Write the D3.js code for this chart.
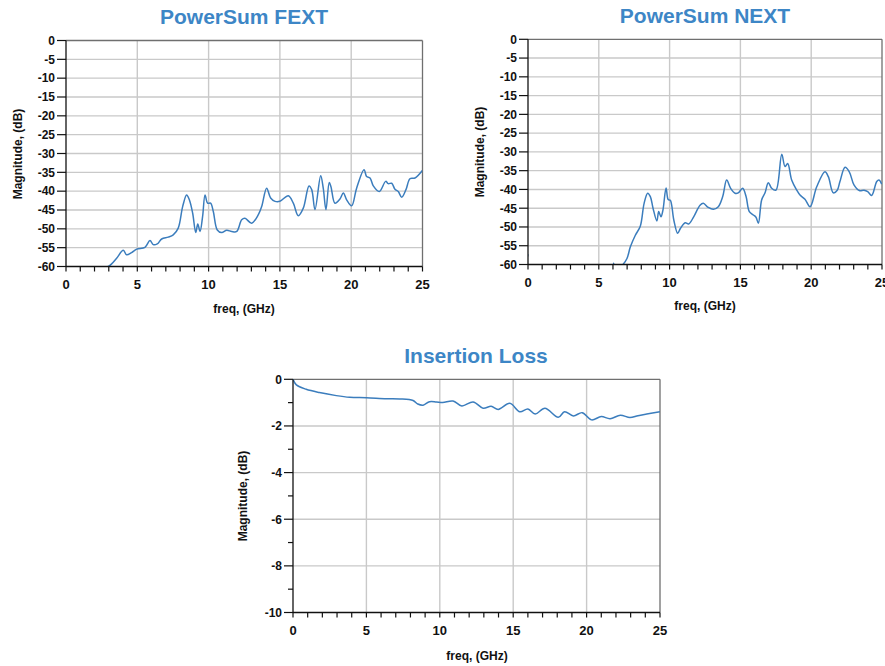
<!DOCTYPE html>
<html>
<head>
<meta charset="utf-8">
<script src="https://cdn.jsdelivr.net/npm/d3@7"></script>
<style>
  html, body { margin: 0; padding: 0; background: #fff; }
  svg { display: block; }
  text { font-family: "Liberation Sans", Arial, sans-serif; font-weight: bold; }
</style>
</head>
<body>
<svg id="chart" width="885" height="666"></svg>
<script>
// ---------- DATA ----------
const fextFreq = [2.5, 2.97, 3.2, 3.55, 4.02, 4.25, 4.6, 4.96, 5.54, 5.89, 6.12, 6.4, 6.71, 7.17, 7.52, 7.87, 8.18, 8.46, 8.65, 8.88, 9.1, 9.24, 9.4, 9.58, 9.75, 9.93, 10.14, 10.33, 10.61, 10.92, 11.27, 11.62, 11.97, 12.32, 12.55, 13.02, 13.48, 13.72, 14.07, 14.35, 14.66, 15.0, 15.59, 15.94, 16.29, 16.64, 17.04, 17.23, 17.46, 17.86, 18.04, 18.23, 18.46, 18.58, 18.86, 19.21, 19.45, 19.68, 20.03, 20.38, 20.9, 21.08, 21.32, 21.55, 21.97, 22.42, 22.6, 22.84, 23.07, 23.3, 23.54, 23.84, 24.12, 24.47, 24.99];
const fextDb   = [-60.4, -60, -59.3, -57.8, -55.7, -56.9, -56.3, -55.4, -54.9, -53.1, -54.2, -54, -52.7, -52.2, -51.6, -49.8, -44.1, -41, -42.3, -45.8, -51, -48.7, -50.7, -46.7, -41, -43.2, -43.2, -45.4, -50.3, -51, -50.4, -50.7, -50.7, -47.6, -47.2, -48.5, -46.3, -44.1, -39.2, -41.8, -42.7, -42.7, -41.2, -43.2, -46.5, -44.5, -38.6, -39.6, -44.9, -35.9, -39.2, -44.9, -37.7, -38.8, -43.2, -42.1, -40.5, -42.3, -43.9, -39.2, -34.3, -36.1, -36.5, -38.6, -40.1, -37.4, -38, -37.9, -39.5, -40.1, -41.6, -39.6, -36.7, -36.5, -34.5];

const nextFreq = [0, 0.02, 5.97, 6.05, 6.12, 6.71, 6.99, 7.23, 7.58, 7.93, 8.2, 8.45, 8.64, 8.83, 9.1, 9.23, 9.39, 9.53, 9.75, 9.9, 10.05, 10.3, 10.57, 10.76, 11.1, 11.35, 11.7, 12.15, 12.38, 12.73, 13.09, 13.44, 13.75, 14.03, 14.31, 14.62, 14.85, 15.16, 15.4, 15.63, 15.91, 16.1, 16.27, 16.5, 16.74, 16.97, 17.21, 17.51, 17.92, 18.15, 18.34, 18.62, 18.98, 19.21, 19.56, 19.92, 20.39, 20.97, 21.21, 21.56, 21.84, 22.03, 22.39, 22.69, 23.02, 23.4, 23.73, 23.99, 24.27, 24.63, 24.79, 24.98];
const nextDb   = [-57.3, -62, -62, -59.7, -62, -60, -58.4, -55.3, -52.2, -49.8, -43.7, -41, -41.9, -45, -48.4, -45.9, -47.3, -45.5, -39.6, -42.7, -42.9, -48.2, -51.7, -50.4, -48.9, -49.2, -47.3, -44.2, -43.7, -44.8, -45.3, -44.6, -41.9, -37.5, -39.7, -41, -40.9, -39.7, -41.9, -45.9, -46.8, -47.4, -49, -42.8, -40.9, -38.2, -39.7, -40.2, -30.6, -33.9, -33.1, -37.5, -40.2, -41.5, -42.6, -44.6, -39.3, -35.3, -36.6, -40.9, -40.2, -37.9, -34.1, -35.3, -38.8, -40.3, -40.2, -40.6, -41.6, -37.9, -37.5, -38.6];

const ilFreq = [0, 0.23, 0.9, 1.8, 2.95, 3.86, 5.0, 6.36, 7.27, 8.18, 8.5, 8.86, 9.3, 9.77, 10.2, 10.9, 11.5, 12.27, 12.95, 13.5, 13.98, 14.77, 15.45, 16.0, 16.5, 17.16, 18.07, 18.5, 19.1, 19.7, 20.34, 21.0, 21.6, 22.3, 22.95, 23.5, 24.1, 25.0];
const ilDb   = [0, -0.24, -0.43, -0.57, -0.7, -0.77, -0.79, -0.83, -0.84, -0.91, -1.06, -1.11, -0.96, -0.97, -0.99, -0.93, -1.14, -0.97, -1.24, -1.16, -1.29, -1.03, -1.39, -1.27, -1.49, -1.24, -1.63, -1.39, -1.57, -1.43, -1.74, -1.6, -1.69, -1.54, -1.64, -1.56, -1.49, -1.39];

const titles = ["PowerSum FEXT", "PowerSum NEXT", "Insertion Loss"];
const xTicks = [0, 5, 10, 15, 20, 25];
const xtTicks = [-60, -55, -50, -45, -40, -35, -30, -25, -20, -15, -10, -5, 0];
const ilTicks = [-10, -8, -6, -4, -2, 0];
const ilMinor = [-9, -7, -5, -3, -1];
const xLabel = "freq, (GHz)";
const yLabel = "Magnitude, (dB)";

// ---------- DRAW ----------
const svg = d3.select("#chart");
const lineColor = "#3b7dbd";
const titleColor = "#3d86c6";

function panel(cfg, idx) {
  const x = d3.scaleLinear().domain([0, 25]).range([cfg.x0, cfg.x1]);
  const y = d3.scaleLinear().domain(cfg.yDomain).range([cfg.y1, cfg.y0]);
  const g = svg.append("g");

  // grid
  g.selectAll(".vg").data(xTicks.slice(1, -1)).enter().append("line")
    .attr("x1", d => x(d)).attr("x2", d => x(d))
    .attr("y1", cfg.y0).attr("y2", cfg.y1)
    .attr("stroke", "#c9c9c9").attr("stroke-width", 1.4);
  g.selectAll(".hg").data(cfg.yTicks.filter(v => v !== cfg.yDomain[0] && v !== cfg.yDomain[1])).enter().append("line")
    .attr("x1", cfg.x0).attr("x2", cfg.x1)
    .attr("y1", d => y(d)).attr("y2", d => y(d))
    .attr("stroke", "#c9c9c9").attr("stroke-width", 1.4);

  // frame top/right
  g.append("line").attr("x1", cfg.x0).attr("x2", cfg.x1).attr("y1", cfg.y0).attr("y2", cfg.y0)
    .attr("stroke", "#6f6f6f").attr("stroke-width", 1.3);
  g.append("line").attr("x1", cfg.x1).attr("x2", cfg.x1).attr("y1", cfg.y0).attr("y2", cfg.y1)
    .attr("stroke", "#6f6f6f").attr("stroke-width", 1.3);

  // curve with clipping
  const clipId = "clip" + idx;
  svg.append("defs").append("clipPath").attr("id", clipId)
    .append("rect").attr("x", cfg.x0).attr("y", cfg.y0 - 1)
    .attr("width", cfg.x1 - cfg.x0).attr("height", cfg.y1 - cfg.y0 + 1);
  const pts = cfg.freq.map((f, i) => [f, cfg.db[i]]);
  const line = d3.line().x(d => x(d[0])).y(d => y(d[1])).curve(d3.curveCatmullRom.alpha(0.5));
  g.append("path").datum(pts).attr("d", line)
    .attr("fill", "none").attr("stroke", lineColor).attr("stroke-width", 1.5)
    .attr("stroke-linejoin", "round")
    .attr("clip-path", `url(#${clipId})`);

  // axes (left + bottom)
  g.append("line").attr("x1", cfg.x0).attr("x2", cfg.x0).attr("y1", cfg.y0).attr("y2", cfg.y1)
    .attr("stroke", "#111").attr("stroke-width", 1.3);
  g.append("line").attr("x1", cfg.x0).attr("x2", cfg.x1).attr("y1", cfg.y1).attr("y2", cfg.y1)
    .attr("stroke", "#111").attr("stroke-width", 1.3);

  // x minor ticks every 1 GHz
  g.selectAll(".xt").data(d3.range(0, 26)).enter().append("line")
    .attr("x1", d => x(d)).attr("x2", d => x(d))
    .attr("y1", cfg.y1).attr("y2", cfg.y1 + 5)
    .attr("stroke", "#111").attr("stroke-width", 1.2);
  // x tick labels
  g.selectAll(".xl").data(xTicks).enter().append("text")
    .attr("x", d => x(d)).attr("y", cfg.y1 + 22)
    .attr("text-anchor", "middle").attr("font-size", 13).attr("fill", "#111")
    .text(d => d);

  // y ticks
  g.selectAll(".yt").data(cfg.yTicks).enter().append("line")
    .attr("x1", cfg.x0 - 9).attr("x2", cfg.x0)
    .attr("y1", d => y(d)).attr("y2", d => y(d))
    .attr("stroke", "#111").attr("stroke-width", 1.2);
  if (cfg.yMinor) {
    g.selectAll(".ym").data(cfg.yMinor).enter().append("line")
      .attr("x1", cfg.x0 - 5).attr("x2", cfg.x0)
      .attr("y1", d => y(d)).attr("y2", d => y(d))
      .attr("stroke", "#111").attr("stroke-width", 1.2);
  }
  g.selectAll(".yl").data(cfg.yTicks).enter().append("text")
    .attr("x", cfg.x0 - 11).attr("y", d => y(d)).attr("dy", "0.36em")
    .attr("text-anchor", "end").attr("font-size", 12).attr("fill", "#111")
    .text(d => d);

  // titles
  g.append("text").attr("x", cfg.tx).attr("y", cfg.ty)
    .attr("text-anchor", "middle").attr("font-size", 21).attr("fill", titleColor)
    .text(cfg.title);
  g.append("text").attr("x", cfg.xlx).attr("y", cfg.xly)
    .attr("text-anchor", "middle").attr("font-size", 12).attr("fill", "#111")
    .text(xLabel);
  g.append("text").attr("transform", `translate(${cfg.ylx},${cfg.yly}) rotate(-90)`)
    .attr("text-anchor", "middle").attr("font-size", 12).attr("fill", "#111")
    .text(yLabel);
}

panel({ x0: 66, x1: 422.5, y0: 40.5, y1: 266.5, yDomain: [-60, 0], yTicks: xtTicks,
  freq: fextFreq, db: fextDb, title: titles[0], tx: 244, ty: 24,
  xlx: 244, xly: 313, ylx: 21.5, yly: 154 }, 0);

panel({ x0: 528, x1: 882, y0: 39.3, y1: 264.5, yDomain: [-60, 0], yTicks: xtTicks,
  freq: nextFreq, db: nextDb, title: titles[1], tx: 705, ty: 23,
  xlx: 705, xly: 310, ylx: 483.5, yly: 152 }, 1);

panel({ x0: 293, x1: 660, y0: 379.3, y1: 612.5, yDomain: [-10, 0], yTicks: ilTicks, yMinor: ilMinor,
  freq: ilFreq, db: ilDb, title: titles[2], tx: 476, ty: 363,
  xlx: 477, xly: 660, ylx: 247, yly: 496 }, 2);
</script>
</body>
</html>
